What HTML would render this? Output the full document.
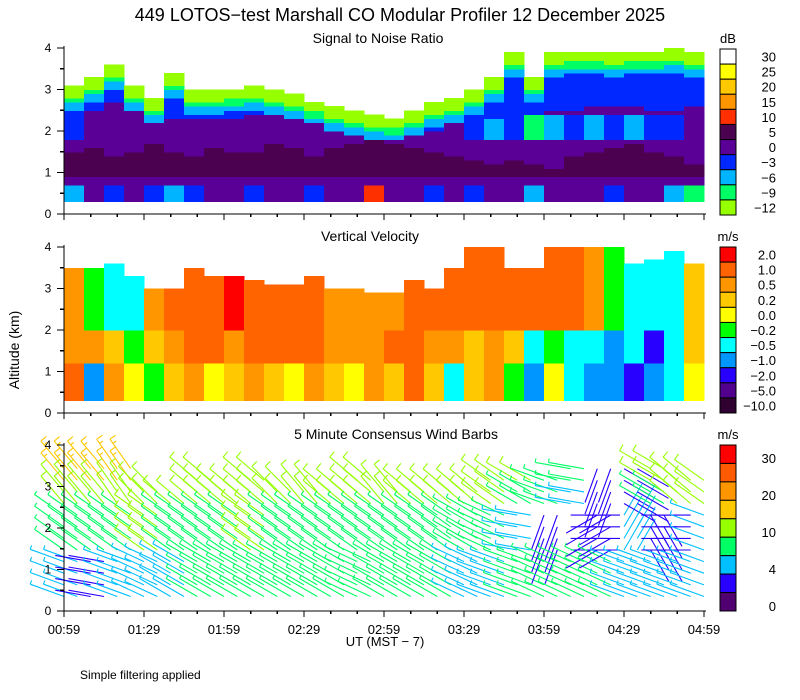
<!DOCTYPE html>
<html><head><meta charset="utf-8">
<style>
html,body{margin:0;padding:0;background:#fff;}
svg{display:block;font-family:"Liberation Sans",sans-serif;}
</style></head>
<body>
<svg id="chart" width="800" height="700" viewBox="0 0 800 700">
<text x="400" y="21" font-size="18" text-anchor="middle">449 LOTOS−test Marshall CO Modular Profiler 12 December 2025</text>
<text x="378" y="43" font-size="14" text-anchor="middle">Signal to Noise Ratio</text>
<text x="370" y="241" font-size="14" text-anchor="middle">Vertical Velocity</text>
<text x="396" y="439" font-size="14" text-anchor="middle">5 Minute Consensus Wind Barbs</text>
<text transform="translate(19,350) rotate(-90)" font-size="14" text-anchor="middle">Altitude (km)</text>
<text x="385" y="646" font-size="13" text-anchor="middle">UT  (MST − 7)</text>
<text x="80" y="679" font-size="12">Simple filtering applied</text>
<g id="layer"></g>
</svg>
<script>
// ---- data ----
const timeLabels=["00:59","01:29","01:59","02:29","02:59","03:29","03:59","04:29","04:59"];
const altTicks=[0,1,2,3,4];
const snrLevels=[30,25,20,15,10,5,0,-3,-6,-9,-12];
const snrColors=["#ffffff","#ffff00","#ffc800","#ff9600","#ff3000","#4b0050","#5a0096","#0028ff","#00b4ff","#00ff64","#96ff00"];
const vvLevels=["2.0","1.0","0.5","0.2","0.0","−0.2","−0.5","−1.0","−2.0","−5.0","−10.0"];
const vvValues=[2.0,1.0,0.5,0.2,0.0,-0.2,-0.5,-1.0,-2.0,-5.0,-10.0];
const vvColors=["#ff0000","#ff6400","#ff9600","#ffc800","#ffff00","#00ff00","#00ffff","#0096ff","#2800ff","#50008c","#300030"];
const windColors=["#ff0000","#ff5a00","#ff9600","#ffc800","#96ff00","#00ff64","#00c0ff","#2800ff","#500070"];
const windLabels=["30","20","10","4","0"];
const windLabelCells=[0,2,4,6,8];
const windThresh=[30,25,20,15,10,7,4,2,0];

const snrTop=[3.1,3.3,3.6,3.1,2.8,3.4,3.0,3.0,3.05,3.1,3.0,2.9,2.75,2.6,2.5,2.4,2.35,2.5,2.7,2.8,3.0,3.3,3.9,3.3,3.9,3.95,3.95,3.9,3.95,3.95,4.0,3.9];
const purpleTop=[2.4,2.5,2.7,2.5,2.2,2.3,2.3,2.3,2.3,2.4,2.4,2.3,2.2,2.1,2.0,1.95,1.9,1.95,2.05,2.2,2.3,2.3,2.3,2.4,2.5,2.5,2.6,2.6,2.6,2.5,2.5,2.6];
const midPatch=[-3,0,0,0,0,0,0,0,0,0,0,0,0,0,0,0,0,0,0,0,-3,-6,-3,-9,-6,-3,-6,-3,-6,-3,-3,0];
const darkTop=[1.5,1.6,1.4,1.5,1.7,1.5,1.4,1.6,1.5,1.5,1.7,1.6,1.4,1.6,1.7,1.8,1.7,1.6,1.5,1.4,1.3,1.2,1.3,1.2,1.1,1.4,1.5,1.6,1.7,1.5,1.4,1.2];
const lowVal=[-6,0,-3,0,-3,-6,-3,0,0,-3,0,0,-3,0,0,10,0,0,-3,0,-3,0,0,-6,0,0,0,-3,0,0,-6,-9];

const vvTop=[3.5,3.5,3.6,3.3,3.0,3.0,3.5,3.3,3.3,3.2,3.1,3.1,3.3,3.0,3.0,2.9,2.9,3.2,3.0,3.5,4.0,4.0,3.5,3.5,4.0,4.0,4.0,4.0,3.6,3.7,3.9,3.6];
const vvHi=[0.5,-0.2,-0.5,-0.5,0.5,1.0,1.0,1.0,2.0,1.0,1.0,1.0,1.0,0.5,0.5,0.5,0.5,1.0,1.0,1.0,1.0,1.0,1.0,1.0,1.0,1.0,0.5,-0.2,-0.5,-0.5,-0.5,0.2];
const vvMid=[0.5,0.5,0.2,-0.2,0.2,0.5,1.0,1.0,0.5,1.0,1.0,1.0,1.0,0.5,0.5,0.5,1.0,1.0,0.5,0.5,0.2,0.5,0.2,-0.5,-0.2,-0.5,-0.5,-1.0,-0.5,-2.0,-0.5,0.2];
const vvLo=[1.0,-1.0,0.5,0.0,-0.2,0.2,0.5,0.0,0.2,0.5,0.2,0.0,0.5,0.2,0.0,0.5,0.2,1.0,0.2,-0.5,0.2,0.5,-0.2,-1.0,0.0,-0.5,-1.0,-1.0,-2.0,-1.0,-0.5,0.0];

const windTop=[3.8,3.8,3.9,3.5,3.2,3.6,3.5,3.6,3.5,3.4,3.3,3.7,3.4,3.5,3.4,3.5,3.7,3.6,3.7,3.8,3.9,3.9,3.8,3.7,3.6];
const spdTop=[17,16,19,16,11,12,11,12,13,16,12,12,16,12,12,12,11,10,9,8,3,3,10,13,12];
const spdHi=[12,12,13,12,11,11,11,11,11,12,11,11,12,11,11,11,10,9,8,6,3,3,8,10,10];
const spdMid=[9,9,9,10,9,9,9,10,9,9,9,9,9,9,9,9,8,6,3,3,3,4,3,2,6];
const spdLo=[5,3,5,6,6,7,8,8,8,8,8,8,8,8,7,6,5,7,8,7,7,6,5,6,6];
const dirHi=[320,320,325,315,310,310,310,310,315,320,310,310,320,310,310,310,305,300,290,280,200,120,300,310,305];
const dirMid=[305,305,305,305,305,305,305,305,305,305,305,305,305,305,305,300,295,280,200,90,240,30,150,270,290];
const dirLo=[290,280,290,295,300,300,300,300,300,300,300,295,300,300,300,295,290,290,295,295,295,290,290,290,290];

// ---- geometry ----
const NS="http://www.w3.org/2000/svg";
const layer=document.getElementById('layer');
const X0=64,X1=704;
const panels=[{base:214},{base:413},{base:611}];
const kmPx=41.5;
function xT(minutes){return X0+(X1-X0)*minutes/240;}
function yA(p,km){return panels[p].base-km*kmPx;}
function mk(tag,attrs,parent){const e=document.createElementNS(NS,tag);for(const k in attrs)e.setAttribute(k,attrs[k]);(parent||layer).appendChild(e);return e;}

function snrVal(i,z){
  const top=snrTop[i]; if(z>top) return null;
  const d=top-z;
  if(d<0.25) return -12; if(d<0.4) return -9; if(d<0.55) return -6;
  if(z>purpleTop[i]) return -3;
  if(midPatch[i]!==0 && z>1.8 && z<2.4) return midPatch[i];
  if(z<0.7) return lowVal[i];
  if(z>0.9 && z<darkTop[i]) return 5;
  return 0;
}
function vvVal(i,z){
  if(z>vvTop[i]) return null;
  if(z>2.0) return vvHi[i];
  if(z>1.2) return vvMid[i];
  return vvLo[i];
}
function snrColor(v){return snrColors[snrLevels.indexOf(v)];}
function vvColor(v){return vvColors[vvValues.indexOf(v)];}

const colMin=7.5;
const gSnr=mk('g',{'shape-rendering':'crispEdges'});


const gVv=mk('g',{'shape-rendering':'crispEdges'});


for(let i=0;i<snrTop.length;i++){
  const xa=xT(i*colMin), xb=xT((i+1)*colMin);
  for(let z=0.3;z<4.0;z+=0.1){
    const v=snrVal(i,z+0.05);
    if(v!==null){
      const r=mk('rect',{x:xa,y:yA(0,z+0.1),width:xb-xa+0.5,height:0.1*kmPx+0.5,fill:snrColor(v)},gSnr);
      
      
    }
    const w=vvVal(i,z+0.05);
    if(w!==null){
      const r=mk('rect',{x:xa,y:yA(1,z+0.1),width:xb-xa+0.5,height:0.1*kmPx+0.5,fill:vvColor(w)},gVv);
      
      
    }
  }
}

// wind barbs
function windColor(s){for(let k=0;k<windThresh.length;k++){if(s>=windThresh[k])return windColors[k];}return windColors[8];}
const gW=mk('g',{'stroke-width':'1.1',fill:'none'});


for(let c=0;c<=48;c++){
  const g=Math.min(24,Math.floor(c/2));
  const x=xT(c*5);
  for(let z=0.35;z<=windTop[g]-0.35;z+=0.28){
    let s,d;
    if(z>3.1){s=spdTop[g];d=dirHi[g];}
    else if(z>2.5){s=spdHi[g];d=dirHi[g];}
    else if(z>1.2){s=spdMid[g];d=dirMid[g];}
    else{s=spdLo[g];d=dirLo[g];}
    const y=yA(2,z);
    const a=d*Math.PI/180;
    const ux=Math.sin(a),uy=-Math.cos(a);
    const L=36;
    const ex=x+ux*L,ey=y+uy*L;
    const col=windColor(s);
    let p=`M${x.toFixed(1)},${y.toFixed(1)}L${ex.toFixed(1)},${ey.toFixed(1)}`;
    const nFull=Math.floor(s/10), half=(s%10)>=5;
    const px=-uy,py=ux;
    let k=0;
    for(;k<Math.min(nFull,3);k++){
      const bx=ex-ux*k*5,by=ey-uy*k*5;
      p+=`M${bx.toFixed(1)},${by.toFixed(1)}l${(px*7).toFixed(1)},${(py*7).toFixed(1)}`;
    }
    if(half){const bx=ex-ux*k*5,by=ey-uy*k*5;p+=`M${bx.toFixed(1)},${by.toFixed(1)}l${(px*4).toFixed(1)},${(py*4).toFixed(1)}`;}
    const e=mk('path',{d:p,stroke:col},gW);
    
    
  }
}

// axes
for(let p=0;p<3;p++){
  const ga=mk('g',{stroke:'#000','stroke-width':'1.3','shape-rendering':'crispEdges'});
  
  
  mk('line',{x1:X0,y1:yA(p,0),x2:X0,y2:yA(p,4.05)},ga);
  mk('line',{x1:X0,y1:yA(p,0),x2:X1+2,y2:yA(p,0)},ga);
  for(let m=0;m<=240;m+=10){
    const maj=m%30===0;
    mk('line',{x1:xT(m),y1:yA(p,0),x2:xT(m),y2:yA(p,0)+(maj?6:3)},ga);
  }
  for(let z=0;z<=4;z+=0.5){
    const maj=z%1===0;
    mk('line',{x1:X0-(maj?7:4),y1:yA(p,z),x2:X0,y2:yA(p,z)},ga);
  }
  altTicks.forEach(t=>{
    const tx=mk('text',{x:48,y:yA(p,t)+4,'font-size':'12','text-anchor':'middle'});
    tx.textContent=t;
    
    
  });
}
timeLabels.forEach((t,i)=>{
  const tx=mk('text',{x:xT(i*30),y:634,'font-size':'13','text-anchor':'middle'});
  tx.textContent=t;
  
  
});

// colorbars
function colorbar(name,top,bottom,colors,labels,cellIdx,unit,dy){
  const g=mk('g',{});
  
  
  const h=(bottom-top)/colors.length;
  colors.forEach((c,k)=>{
    const r=mk('rect',{x:720,y:top+k*h,width:16,height:h,fill:c,stroke:'#000','stroke-width':'1'},g);
    
    
  });
  labels.forEach((l,k)=>{
    const t=mk('text',{x:776,y:top+(cellIdx[k]+0.5)*h+5+dy,'font-size':'13','text-anchor':'end'},g);
    t.textContent=l;
    
    
  });
  const u=mk('text',{x:728,y:top-6,'font-size':'13','text-anchor':'middle'},g);
  u.textContent=unit;
  
  
}
colorbar('snr-colorbar',49,215,snrColors,snrLevels.map(v=>String(v).replace('-','−')),snrLevels.map((v,k)=>k),'dB',0);
colorbar('vv-colorbar',247,413,vvColors,vvLevels,vvLevels.map((v,k)=>k),'m/s',0);
colorbar('wind-colorbar',445,611,windColors,windLabels,windLabelCells,'m/s',4);
</script>
</body></html>
